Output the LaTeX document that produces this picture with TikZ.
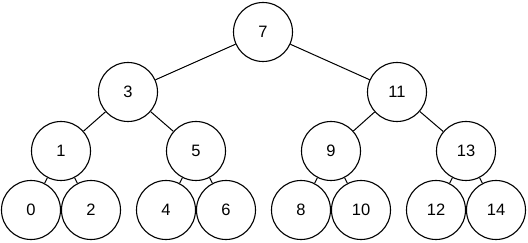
\documentclass[tikz,border=0pt]{standalone}
\usepackage{fontspec}
\setmainfont{Liberation Sans}
\usetikzlibrary{positioning}

\begin{document}
\begin{tikzpicture}[
        x=1pt, y=-1pt,
        key/.style={
            circle, draw, line width=1.1pt, fill=white,
            minimum size=59pt, inner sep=0pt,
            font=\fontsize{16.5}{18}\selectfont,
        },
        link/.style={line width=1pt},
    ]
        \useasboundingbox (0,0) rectangle (528,243);

        % root and inner levels
        \node[key] (n7) at (263,32) {7};
        \node[key] (n3) at (128,92) {3};
        \node[key] (n11) at (397,92) {11};
        \node[key] (n1) at (61,151) {1};
        \node[key] (n5) at (196,151) {5};
        \node[key] (n9) at (331,151) {9};
        \node[key] (n13) at (466,151) {13};

        % leaves
        \node[key] (n0) at (31,210) {0};
        \node[key] (n2) at (91,210) {2};
        \node[key] (n4) at (166,210) {4};
        \node[key] (n6) at (226,210) {6};
        \node[key] (n8) at (301,210) {8};
        \node[key] (n10) at (361,210) {10};
        \node[key] (n12) at (436,210) {12};
        \node[key] (n14) at (496,210) {14};

        \foreach \p/\c in {n7/n3, n7/n11, n3/n1, n3/n5, n11/n9, n11/n13,
                           n1/n0, n1/n2, n5/n4, n5/n6, n9/n8, n9/n10,
                           n13/n12, n13/n14}
            \draw[link] (\p) -- (\c);
\end{tikzpicture}
\end{document}
